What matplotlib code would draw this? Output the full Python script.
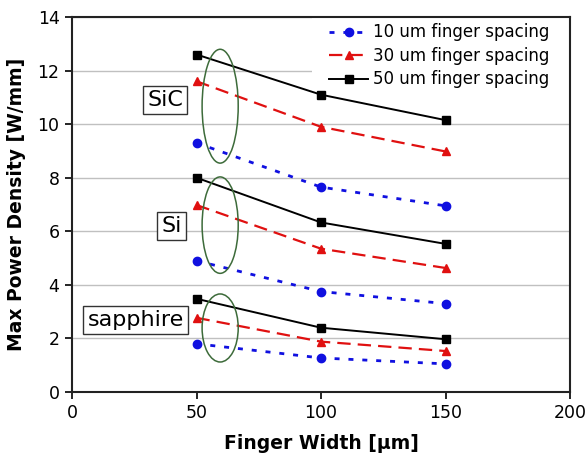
import matplotlib
matplotlib.use("Agg")
import matplotlib.pyplot as plt
from matplotlib.patches import Ellipse, Rectangle

finger_width = [50, 100, 150]

# Max power density [W/mm] per substrate and finger spacing
sic_10 = [9.3, 7.65, 6.95]
sic_30 = [11.6, 9.9, 8.98]
sic_50 = [12.6, 11.1, 10.15]

si_10 = [4.9, 3.75, 3.3]
si_30 = [6.98, 5.35, 4.63]
si_50 = [8.0, 6.33, 5.53]

sapphire_10 = [1.8, 1.27, 1.05]
sapphire_30 = [2.77, 1.88, 1.53]
sapphire_50 = [3.48, 2.4, 1.97]

series_labels = ["10 um finger spacing", "30 um finger spacing", "50 um finger spacing"]
substrates = ["SiC", "Si", "sapphire"]

plt.rcParams["font.family"] = ["DejaVu Sans"]

fig = plt.figure(figsize=(5.85, 4.57), dpi=100)
ax = fig.add_axes([72 / 585, 1 - 392 / 457, (570 - 72) / 585, (392 - 17) / 457])

styles = [
    dict(color="#1010e0", linestyle=(0, (1.8, 3.2)), linewidth=2.0, marker="o", markersize=6),
    dict(color="#e01010", linestyle=(0, (6, 3.2)), linewidth=1.6, marker="^", markersize=6),
    dict(color="black", linestyle="-", linewidth=1.4, marker="s", markersize=6),
]

groups = [
    (sic_10, sic_30, sic_50),
    (si_10, si_30, si_50),
    (sapphire_10, sapphire_30, sapphire_50),
]

for gi, group in enumerate(groups):
    for si, vals in enumerate(group):
        ax.plot(finger_width, vals, label=series_labels[si] if gi == 0 else None,
                zorder=3, **styles[si])

# Ellipses grouping the 50 um finger width points
ellipses = [(59.5, 10.67, 14.5, 4.25), (59.5, 6.23, 14.5, 3.6), (59.5, 2.39, 14.5, 2.54)]
for cx, cy, w, h in ellipses:
    ax.add_patch(Ellipse((cx, cy), w, h, fill=False, edgecolor="#3d6b3a", linewidth=1.1, zorder=4))

# Substrate labels
label_pos = [(37.5, 10.9), (40, 6.18), (25.5, 2.68)]
for name, (x, y) in zip(substrates, label_pos):
    ax.text(x, y, name, fontsize=16, ha="center", va="center", zorder=5,
            bbox=dict(boxstyle="square,pad=0.18", facecolor="white", edgecolor="#333333", linewidth=1))

ax.set_xlim(0, 200)
ax.set_ylim(0, 14)
ax.set_xticks([0, 50, 100, 150, 200])
ax.set_yticks(range(0, 15, 2))
ax.yaxis.grid(True, color="#c0c0c0", linewidth=1, zorder=0.5)
ax.set_axisbelow(True)
ax.tick_params(direction="out", length=5, width=1.2, labelsize=12.5, pad=4)
for sp in ax.spines.values():
    sp.set_linewidth(1.5)
    sp.set_color("#222222")

ax.set_xlabel("Finger Width [μm]", fontsize=13.5, fontweight="bold", labelpad=8)
ax.set_ylabel("Max Power Density [W/mm]", fontsize=13.5, fontweight="bold", labelpad=8)

# White backing behind the legend area (hides the gridline there)
ax.add_patch(Rectangle((0.482, 0.80), 0.518, 0.20, transform=ax.transAxes,
                       facecolor="white", edgecolor="none", zorder=1))

leg = ax.legend(loc="upper right", bbox_to_anchor=(0.958, 0.983), fontsize=12, frameon=False,
                borderaxespad=0, borderpad=0, handlelength=2.3, labelspacing=0.33,
                handletextpad=0.3)

fig.savefig("out.png", dpi=100)
